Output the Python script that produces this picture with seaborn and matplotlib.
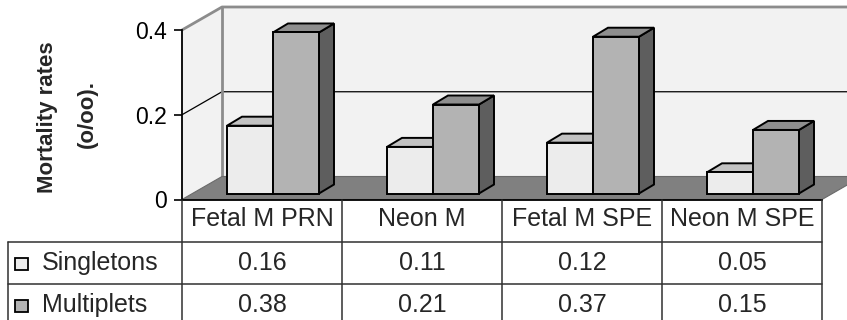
import numpy as np
import pandas as pd
import matplotlib
matplotlib.use("Agg")
import matplotlib.pyplot as plt
import matplotlib.transforms as mtransforms
from matplotlib.patches import Polygon, Rectangle
from matplotlib.lines import Line2D
import seaborn as sns

# ---- data -------------------------------------------------------------
categories = ["Fetal M PRN", "Neon M", "Fetal M SPE", "Neon M SPE"]
series = ["Singletons", "Multiplets"]
singletons = [0.16, 0.11, 0.12, 0.05]
multiplets = [0.38, 0.21, 0.37, 0.15]
yticks = [0, 0.2, 0.4]
ytick_labels = ["0", "0.2", "0.4"]
ylabel_lines = ["Mortality rates", "(o/oo)."]

# ---- styling ----------------------------------------------------------
front_colors = ["#ececec", "#b3b3b3"]
top_colors = ["#c2c2c2", "#8e8e8e"]
side_colors = ["#9a9a9a", "#5e5e5e"]
WALL = "#f2f2f2"
FLOOR = "#808080"
WALL_EDGE = "#8c8c8c"

W, H, DPI = 847, 320, 100
DEPTH = (40, 23)        # oblique depth of the plot box, in pixels
BAR_SHIFT = (11, 6)     # bar front faces sit a little behind the front plane
BAR_DEPTH = (15, 9)     # depth of each bar box

sns.set_theme(style="white")
plt.rcParams["font.family"] = ["Liberation Sans", "DejaVu Sans"]

fig = plt.figure(figsize=(W / DPI, H / DPI), dpi=DPI)
fig.patch.set_facecolor("white")


def rect(left, top, right, bottom):
    return [left / W, 1 - bottom / H, (right - left) / W, (bottom - top) / H]


ax = fig.add_axes(rect(182, 30, 822, 199.5))
ax.set_facecolor("none")

df = pd.DataFrame({
    "category": categories * 2,
    "series": [series[0]] * len(categories) + [series[1]] * len(categories),
    "value": singletons + multiplets,
})

sns.barplot(data=df, x="category", y="value", hue="series",
            order=categories, hue_order=series,
            palette=dict(zip(series, front_colors)), saturation=1,
            width=0.575, edgecolor="black", linewidth=1.4,
            errorbar=None, legend=False, ax=ax)

ax.set_xlim(-0.5, 3.5)
ax.set_ylim(0, 0.4)
ax.set_xticks([])
ax.set_xlabel("")
ax.set_ylabel("")
ax.set_yticks(yticks)
ax.set_yticklabels(ytick_labels)
ax.tick_params(axis="y", left=True, length=6, width=1.2, color="black",
               direction="out", pad=5, labelsize=16.5, labelcolor="black")
for side in ("top", "right"):
    ax.spines[side].set_visible(False)
for side in ("left", "bottom"):
    ax.spines[side].set_color("black")
    ax.spines[side].set_linewidth(1.3)
    ax.spines[side].set_zorder(6)

ident = mtransforms.IdentityTransform()


def px(x, y, depth=0.0, shift=(0, 0)):
    X, Y = ax.transData.transform((x, y))
    return (X + depth * DEPTH[0] + shift[0], Y + depth * DEPTH[1] + shift[1])


def poly(points, fc, ec="none", lw=0, z=1):
    p = Polygon(points, closed=True, transform=ident, facecolor=fc,
                edgecolor=ec, linewidth=lw, zorder=z, clip_on=False)
    ax.add_patch(p)


def line(points, color, lw, z=1.5):
    xs, ys = zip(*points)
    ax.add_line(Line2D(xs, ys, transform=ident, color=color, linewidth=lw,
                       zorder=z, clip_on=False, solid_capstyle="butt"))


x0, x1 = -0.5, 3.5
y0, y1 = yticks[0], yticks[-1]

# walls and floor
poly([px(x0, y0, 1), px(x1, y0, 1), px(x1, y1, 1), px(x0, y1, 1)], WALL, z=0.5)
poly([px(x0, y0), px(x0, y0, 1), px(x0, y1, 1), px(x0, y1)], WALL, z=0.6)
poly([px(x0, y0), px(x1, y0), px(x1, y0, 1), px(x0, y0, 1)], FLOOR,
     ec="#6a6a6a", lw=0.8, z=1)

# gridline at the middle tick, along side wall and back wall
for yv in yticks[1:-1]:
    line([px(x0, yv), px(x0, yv, 1), px(x1, yv, 1)], "black", 0.9, z=0.8)

# wall borders
line([px(x0, y1), px(x0, y1, 1), px(x1, y1, 1)], WALL_EDGE, 2.0, z=0.9)
line([px(x0, y0, 1), px(x0, y1, 1)], WALL_EDGE, 2.0, z=0.9)

# bars: shift fronts and add top / side faces
bar_tf = mtransforms.offset_copy(ax.transData, fig=fig, x=BAR_SHIFT[0],
                                 y=BAR_SHIFT[1], units="dots")
for i, cont in enumerate(ax.containers):
    for bar in cont:
        bx, bw, bh = bar.get_x(), bar.get_width(), bar.get_height()
        bar.set_transform(bar_tf)
        bar.set_clip_on(False)
        bar.set_zorder(3 + i + 0.2)
        fl = px(bx, bh, shift=BAR_SHIFT)
        fr = px(bx + bw, bh, shift=BAR_SHIFT)
        br = px(bx + bw, 0, shift=BAR_SHIFT)
        d = BAR_DEPTH
        top = [fl, fr, (fr[0] + d[0], fr[1] + d[1]), (fl[0] + d[0], fl[1] + d[1])]
        side = [fr, br, (br[0] + d[0], br[1] + d[1]), (fr[0] + d[0], fr[1] + d[1])]
        poly(side, side_colors[i], ec="black", lw=1.4, z=3 + i)
        poly(top, top_colors[i], ec="black", lw=1.4, z=3 + i + 0.1)

# y axis title
fig.text(47 / W, 1 - 117 / H, ylabel_lines[0], rotation=90, ha="center",
         va="center", fontsize=16, fontweight="bold")
fig.text(87 / W, 1 - 114 / H, ylabel_lines[1], rotation=90, ha="center",
         va="center", fontsize=16, fontweight="bold")

# ---- data table -------------------------------------------------------
label_w = 174 / 160
tax = fig.add_axes(rect(8, 200, 822, 326))
tx0 = x0 - label_w
tax.set_xlim(tx0, x1)
tax.set_ylim(3, 0)
tax.axis("off")

TL = dict(color="#303030", linewidth=1.1, clip_on=False)
for xv in np.arange(len(categories) + 1) - 0.5:
    tax.plot([xv, xv], [0, 3], **TL)
tax.plot([tx0, tx0], [1, 3], **TL)
for yv in (1, 2):
    tax.plot([tx0, x1], [yv, yv], **TL)

FS = 18
for j, cat in enumerate(categories):
    tax.text(j, 0.45, cat, ha="center", va="center", fontsize=FS)
for r, (name, vals) in enumerate(zip(series, [singletons, multiplets])):
    yc = 1.5 + r
    for j, v in enumerate(vals):
        tax.text(j, yc, f"{v:.2f}", ha="center", va="center", fontsize=FS)
    tax.add_patch(Rectangle((tx0 + 7 / 160, yc - 0.11), 13 / 160, 0.27,
                            facecolor=front_colors[r], edgecolor="black",
                            linewidth=1.3, clip_on=False))
    tax.text(tx0 + 34 / 160, yc, name, ha="left", va="center", fontsize=FS)

fig.savefig("out.png", dpi=DPI, facecolor="white")
